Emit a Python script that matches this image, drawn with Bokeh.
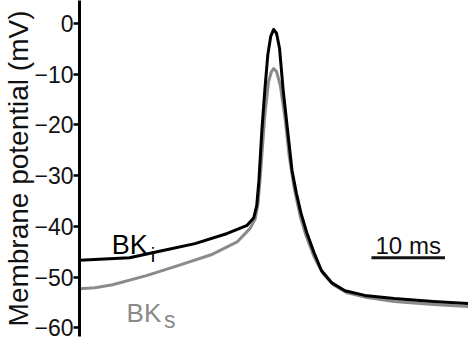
from bokeh.plotting import figure
from bokeh.models import Label, FixedTicker, Range1d
from bokeh.embed import file_html
from bokeh.resources import INLINE

# ---- data (time in ms, membrane potential in mV) ----
t_bki = [0.0, 6.8, 11.2, 15.7, 20.1, 22.8, 23.7, 24.1, 24.4, 24.8, 25.2, 25.6, 26.0, 26.4,
         26.8, 27.2, 27.7, 28.3, 28.9, 29.5, 30.1, 30.9, 31.9, 32.9, 34.3, 36.1, 38.8,
         42.8, 48.1, 52.9]
v_bki = [-46.7, -46.2, -44.8, -43.4, -41.4, -39.8, -38.3, -35.9, -31.0, -21.1, -13.2, -6.3,
         -2.6, -1.2, -2.0, -4.9, -13.2, -21.1, -29.0, -33.5, -37.3, -41.2, -45.2, -48.7,
         -51.1, -52.7, -53.6, -54.2, -54.8, -55.2]

t_bks = [0.0, 2.1, 4.5, 9.1, 13.5, 17.9, 21.5, 23.2, 23.9, 24.3, 24.7, 25.2, 25.7, 26.1,
         26.4, 26.8, 27.3, 27.9, 28.5, 29.2, 30.0, 30.8, 31.9, 33.1, 34.5, 36.4, 39.1,
         42.8, 48.1, 52.9]
v_bks = [-52.3, -52.1, -51.5, -49.7, -47.7, -45.6, -43.0, -40.4, -38.5, -35.3, -28.0, -18.1,
         -11.6, -9.5, -8.9, -9.5, -12.2, -18.1, -26.0, -32.5, -37.9, -41.8, -46.0, -49.3,
         -51.5, -53.1, -54.0, -54.8, -55.4, -55.8]

y_ticks = [0, -10, -20, -30, -40, -50, -60]
y_label = "Membrane potential (mV)"
scale_len = 10          # ms
scale_start = 39.7      # ms
scale_v = -46.2         # mV
scale_text = "10 ms"

BLACK = "#000000"
GRAY = "#8a8a8a"
FONT = "Liberation Sans"

p = figure(width=468, height=344, output_backend="svg", toolbar_location=None,
           x_range=Range1d(0, 52.9), y_range=Range1d(-61.7, 4.5),
           min_border_left=71, min_border_top=0, min_border_bottom=8, min_border_right=0)
p.outline_line_color = None
p.xgrid.visible = False
p.ygrid.visible = False
p.xaxis.visible = False

ya = p.yaxis[0]
ya.ticker = FixedTicker(ticks=y_ticks)
ya.axis_line_width = 3
ya.axis_line_color = BLACK
ya.major_tick_line_width = 2.5
ya.major_tick_line_color = BLACK
ya.major_tick_out = 6
ya.major_tick_in = 0
ya.minor_tick_line_color = None
ya.major_label_text_font = FONT
ya.major_label_text_font_size = "23px"
ya.major_label_text_color = "#111111"
ya.major_label_standoff = 0
ya.axis_label = y_label
ya.axis_label_text_font = FONT
ya.axis_label_text_font_size = "28px"
ya.axis_label_text_font_style = "normal"
ya.axis_label_text_color = "#111111"
ya.axis_label_standoff = -3

p.line(t_bks, v_bks, line_color=GRAY, line_width=3, line_join="round", line_cap="round")
p.line(t_bki, v_bki, line_color=BLACK, line_width=3, line_join="round", line_cap="round")

# scale bar
p.line([scale_start, scale_start + scale_len], [scale_v, scale_v], line_color="#111111", line_width=3)
p.add_layout(Label(x=scale_start + scale_len / 2, y=-43.8, text=scale_text,
                   text_font=FONT, text_font_size="24px", text_align="center",
                   text_baseline="alphabetic", text_color="#111111"))

# trace labels
p.add_layout(Label(x=4.4, y=-43.6, text="BK", text_font=FONT, text_font_size="27px",
                   text_baseline="alphabetic", text_color=BLACK))
p.add_layout(Label(x=9.7, y=-45.6, text="i", text_font=FONT, text_font_size="20px",
                   text_baseline="alphabetic", text_color=BLACK))
p.add_layout(Label(x=6.4, y=-57.0, text="BK", text_font=FONT, text_font_size="26px",
                   text_baseline="alphabetic", text_color=GRAY))
p.add_layout(Label(x=11.5, y=-58.4, text="s", text_font=FONT, text_font_size="23px",
                   text_baseline="alphabetic", text_color=GRAY))

open("out.html", "w").write(file_html(p, INLINE))
